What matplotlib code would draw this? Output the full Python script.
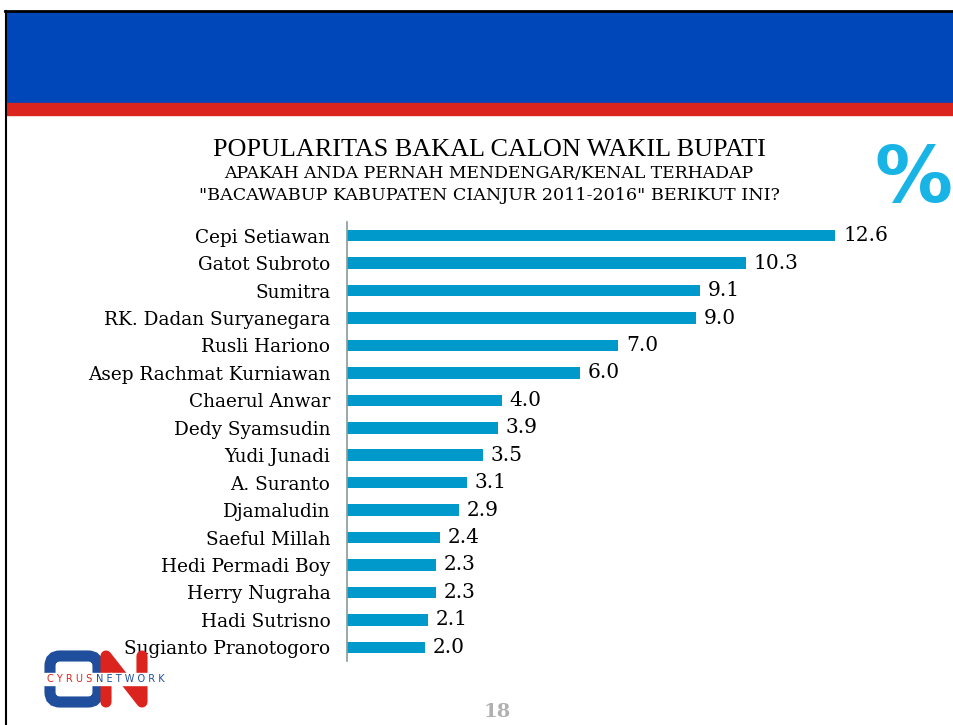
import matplotlib.pyplot as plt
import matplotlib.patches as mpatches
import numpy as np

nama = ["Cepi Setiawan", "Gatot Subroto", "Sumitra", "RK. Dadan Suryanegara",
        "Rusli Hariono", "Asep Rachmat Kurniawan", "Chaerul Anwar", "Dedy Syamsudin",
        "Yudi Junadi", "A. Suranto", "Djamaludin", "Saeful Millah",
        "Hedi Permadi Boy", "Herry Nugraha", "Hadi Sutrisno", "Sugianto Pranotogoro"]
nilai = [12.6, 10.3, 9.1, 9.0, 7.0, 6.0, 4.0, 3.9, 3.5, 3.1, 2.9, 2.4, 2.3, 2.3, 2.1, 2.0]

W, H = 954, 725
fig = plt.figure(figsize=(W / 100, H / 100), dpi=100)

def fx(x):
    return x / W

def fy(y):
    return 1 - y / H

# slide header
fig.patches.append(mpatches.Rectangle((fx(6), fy(103)), 1, fy(12) - fy(103),
                                      transform=fig.transFigure, color='#0047b9', zorder=0))
fig.patches.append(mpatches.Rectangle((fx(6), fy(115)), 1, fy(103) - fy(115),
                                      transform=fig.transFigure, color='#dc241f', zorder=0))
fig.lines.append(plt.Line2D([fx(5), 1], [fy(11), fy(11)], transform=fig.transFigure,
                            color='black', lw=2))
fig.lines.append(plt.Line2D([fx(6), fx(6)], [fy(11), 0], transform=fig.transFigure,
                            color='black', lw=1.5))

# titles
fig.text(fx(489), fy(150), "POPULARITAS BAKAL CALON WAKIL BUPATI", ha='center', va='center',
         family='Liberation Serif', fontsize=18.8)
fig.text(fx(489), fy(173), "APAKAH ANDA PERNAH MENDENGAR/KENAL TERHADAP", ha='center',
         va='center', family='DejaVu Serif', fontsize=12.4)
fig.text(fx(489), fy(196), "\"BACAWABUP KABUPATEN CIANJUR 2011-2016\" BERIKUT INI?", ha='center',
         va='center', family='DejaVu Serif', fontsize=12.6)

# percent sign
fig.text(fx(953), fy(180), "%", ha='right', va='center', fontsize=56, fontweight='bold',
         color='#18b4e6', family='DejaVu Sans')

# chart
ax = fig.add_axes([fx(347), fy(661), fx(940) - fx(347), fy(222) - fy(661)])
y = np.arange(len(nama))
ax.barh(y, nilai, height=0.42, color='#0099cc')
ax.set_ylim(len(nama) - 0.5, -0.5)
ax.set_xlim(0, 15.3)
ax.set_yticks(y)
ax.set_yticklabels(nama, family='DejaVu Serif', fontsize=13.3)
ax.tick_params(axis='y', length=0, pad=12)
ax.set_xticks([])
for s in ['top', 'right', 'bottom']:
    ax.spines[s].set_visible(False)
ax.spines['left'].set_color('#8a9a9a')
ax.spines['left'].set_linewidth(1.2)
for i, v in enumerate(nilai):
    ax.text(v + 0.2, i, f"{v:.1f}", va='center', ha='left', family='DejaVu Serif', fontsize=14.5)

# logo
lg = fig.add_axes([fx(44), fy(708), fx(152) - fx(44), fy(650) - fy(708)])
lg.set_xlim(0, 108)
lg.set_ylim(0, 58)
lg.axis('off')
lg.add_patch(mpatches.FancyBboxPatch((6, 6), 48, 46, boxstyle='round,pad=0,rounding_size=10',
                                     fill=False, ec='#1f4e9c', lw=8))
lg.plot([62, 62, 98, 98], [6, 52, 6, 52], color='#dc241f', lw=8, solid_capstyle='round')
lg.add_patch(mpatches.Rectangle((0, 23), 108, 12, color='white', zorder=3))
lg.text(3, 29, "C Y R U S", color='#dc241f', fontsize=7, va='center', ha='left', zorder=4)
lg.text(52, 29, "N E T W O R K", color='#1f4e9c', fontsize=7, va='center', ha='left', zorder=4)

# page number
fig.text(fx(497), fy(712), "18", ha='center', va='center', color='#b0b0b0', fontsize=14,
         fontweight='bold', family='DejaVu Serif')

fig.savefig('out.png', dpi=100)
